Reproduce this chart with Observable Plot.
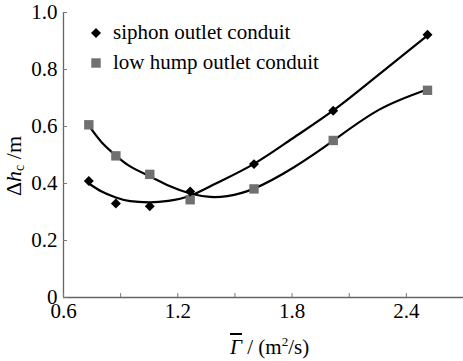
<!DOCTYPE html>
<html>
<head>
<meta charset="utf-8">
<script src="https://cdn.jsdelivr.net/npm/d3@7"></script>
<script src="https://cdn.jsdelivr.net/npm/@observablehq/plot@0.6"></script>
<style>
  html, body { margin: 0; padding: 0; background: #fff; }
  #wrap { position: relative; width: 463px; height: 361px; }
  #wrap, #wrap *, #wrap svg text { font-family: 'Liberation Serif', 'Times New Roman', serif !important; }
  .lab { position: absolute; font-size: 21px; color: #000; white-space: nowrap; line-height: 1; }
  .leg { position: absolute; font-size: 21px; color: #000; white-space: nowrap; line-height: 1; }
</style>
</head>
<body>
<div id="wrap"></div>
<script>
// Measured points
const gammaPts = [0.733, 0.875, 1.053, 1.265, 1.600, 2.016, 2.511];
const siphonPts = [0.409, 0.330, 0.320, 0.372, 0.468, 0.655, 0.922];
const humpPts = [0.606, 0.497, 0.432, 0.343, 0.381, 0.551, 0.727];

// Fitted trend curves
const siphonCurveX = [0.733, 0.80, 0.875, 0.95, 1.053, 1.15, 1.265, 1.40, 1.60, 1.80, 2.02, 2.26, 2.51];
const siphonCurveY = [0.400, 0.372, 0.351, 0.338, 0.334, 0.339, 0.357, 0.400, 0.469, 0.557, 0.658, 0.785, 0.919];
const humpCurveX = [0.733, 0.80, 0.875, 0.95, 1.053, 1.16, 1.265, 1.37, 1.46, 1.60, 1.81, 2.02, 2.26, 2.51];
const humpCurveY = [0.603, 0.545, 0.498, 0.460, 0.425, 0.390, 0.365, 0.353, 0.356, 0.382, 0.457, 0.552, 0.660, 0.730];

const xTicks = [0.6, 0.9, 1.2, 1.5, 1.8, 2.1, 2.4, 2.7];
const xTickLabels = ["0.6", "", "1.2", "", "1.8", "", "2.4", ""];
const yTicks = [0, 0.2, 0.4, 0.6, 0.8, 1.0];
const yTickLabels = ["0", "0.2", "0.4", "0.6", "0.8", "1.0"];

const seriesNames = ["siphon outlet conduit", "low hump outlet conduit"];

const siphon = gammaPts.map((g, i) => ({x: g, y: siphonPts[i]}));
const hump = gammaPts.map((g, i) => ({x: g, y: humpPts[i]}));
const sCurve = siphonCurveX.map((g, i) => ({x: g, y: siphonCurveY[i]}));
const hCurve = humpCurveX.map((g, i) => ({x: g, y: humpCurveY[i]}));

const chart = Plot.plot({
  width: 463,
  height: 361,
  marginLeft: 63,
  marginRight: 0,
  marginTop: 12,
  marginBottom: 64,
  style: {fontFamily: "'Liberation Serif', serif", fontSize: "21px", color: "#000", background: "#fff"},
  x: {domain: [0.6, 2.7]},
  y: {domain: [0, 1]},
  marks: [
    Plot.ruleX([0.6], {stroke: "#666", strokeWidth: 1.3}),
    Plot.ruleY([0], {stroke: "#666", strokeWidth: 1.3}),
    Plot.axisX({ticks: xTicks, tickFormat: (d, i) => xTickLabels[i], tickSize: -4, tickPadding: 10, stroke: "#777", label: null, fontSize: 21}),
    Plot.axisY({ticks: yTicks, tickFormat: (d, i) => yTickLabels[i], tickSize: -4, tickPadding: 10, stroke: "#777", label: null, fontSize: 21}),
    Plot.line(hCurve, {x: "x", y: "y", curve: "natural", stroke: "#000", strokeWidth: 2.2}),
    Plot.line(sCurve, {x: "x", y: "y", curve: "natural", stroke: "#000", strokeWidth: 2.2}),
    Plot.dot(hump, {x: "x", y: "y", symbol: "square", r: 5.3, fill: "#707070", stroke: "none"}),
    Plot.dot(siphon, {x: "x", y: "y", symbol: "diamond2", r: 4.5, fill: "#000", stroke: "none"})
  ]
});

const wrap = document.getElementById("wrap");
chart.style.position = "absolute";
chart.style.left = "0px";
chart.style.top = "0px";
wrap.appendChild(chart);

// Legend (overlay)
function legItem(sym, label, top) {
  const d = document.createElement("div");
  d.className = "leg";
  d.style.left = "88px";
  d.style.top = top + "px";
  d.innerHTML = `<svg width="16" height="16" style="vertical-align:middle;margin-right:9px;margin-top:-3px">${sym}</svg>${label}`;
  wrap.appendChild(d);
}
legItem('<polygon points="8,3 13,8 8,13 3,8" fill="#000"/>', seriesNames[0], 22);
legItem('<rect x="3.3" y="3.3" width="9.4" height="9.4" fill="#707070"/>', seriesNames[1], 52);

// Axis titles
const xl = document.createElement("div");
xl.className = "lab";
xl.style.left = "230px";
xl.style.top = "335px";
xl.innerHTML = '<span style="text-decoration:overline"><i>Γ</i></span> / (m<sup style="font-size:13px;vertical-align:8px">2</sup>/s)';
wrap.appendChild(xl);

const yl = document.createElement("div");
yl.className = "lab";
yl.style.left = "15px";
yl.style.top = "166px";
yl.style.fontSize = "22px";
yl.style.transform = "translate(-50%,-50%) rotate(-90deg)";
yl.innerHTML = 'Δ<i>h</i><sub style="font-size:14px;vertical-align:-3px">c</sub> /m';
wrap.appendChild(yl);
</script>
</body>
</html>
